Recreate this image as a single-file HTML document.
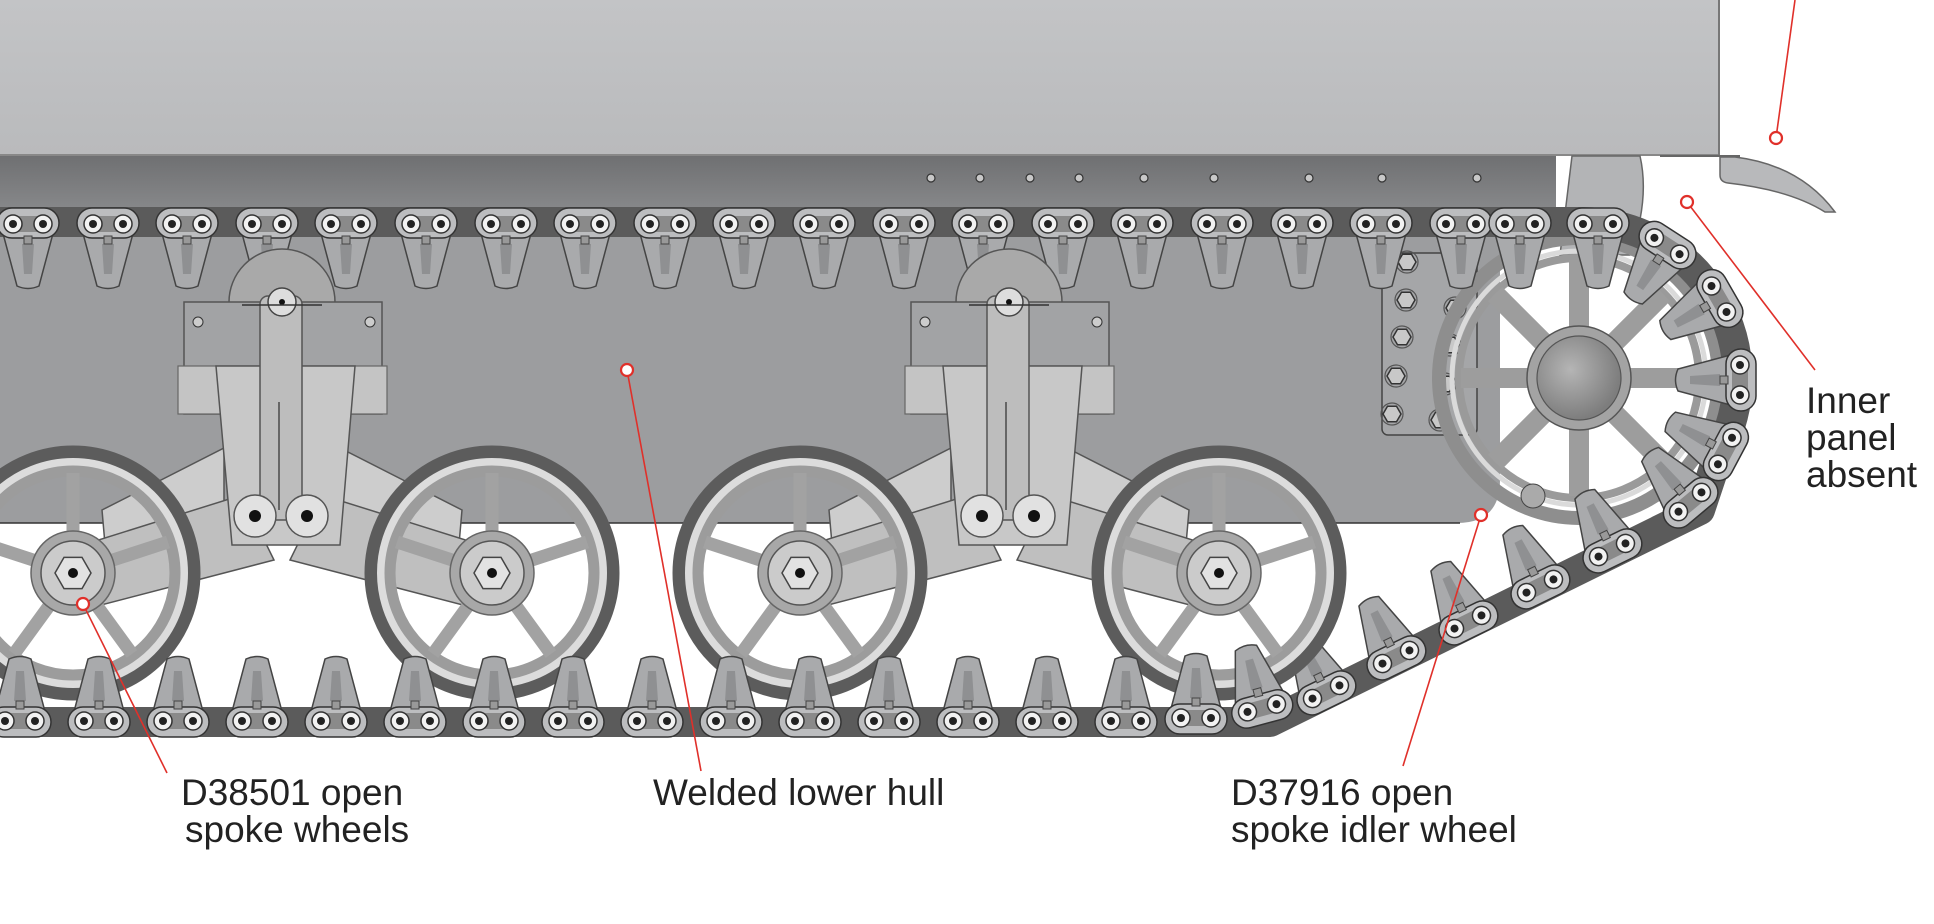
<!DOCTYPE html>
<html><head><meta charset="utf-8"><style>
html,body{margin:0;padding:0;background:#fff;}
svg{display:block}
text{font-family:"Liberation Sans",Arial,sans-serif;font-size:37px;fill:#222;}
</style></head><body>
<svg width="1934" height="924" viewBox="0 0 1934 924" xmlns="http://www.w3.org/2000/svg">
<defs>
<linearGradient id="gup" x1="0" y1="0" x2="0" y2="1"><stop offset="0" stop-color="#c3c4c6"/><stop offset="1" stop-color="#b9babc"/></linearGradient>
<linearGradient id="gband" x1="0" y1="0" x2="0" y2="1"><stop offset="0" stop-color="#6f7072"/><stop offset="1" stop-color="#8a8b8d"/></linearGradient>
<radialGradient id="ghub" cx="0.4" cy="0.4" r="0.6"><stop offset="0" stop-color="#b5b5b5"/><stop offset="1" stop-color="#7d7d7d"/></radialGradient>
<g id="link">
  <path d="M-27 2 L27 2 L11 62 Q0 67 -11 62 Z" fill="#a9aaac" stroke="#444" stroke-width="1.5"/>
  <path d="M-6 20 L6 20 L4 50 L-4 50 Z" fill="#8f9092"/>
  <rect x="-31" y="-16" width="62" height="30" rx="15" fill="#bcbdbf" stroke="#333" stroke-width="1.5"/>
  <rect x="-10" y="-8" width="20" height="16" fill="#8a8a8a"/>
  <circle cx="-15" cy="0" r="9" fill="#f2f2f2" stroke="#333" stroke-width="1.5"/>
  <circle cx="15" cy="0" r="9" fill="#f2f2f2" stroke="#333" stroke-width="1.5"/>
  <circle cx="-15" cy="0" r="4" fill="#222"/>
  <circle cx="15" cy="0" r="4" fill="#222"/>
  <rect x="-4" y="12" width="8" height="8" fill="#999" stroke="#444" stroke-width="1"/>
</g>
<g id="wheel">
  <circle r="121" fill="none" stroke="#5c5c5c" stroke-width="13"/>
  <circle r="111" fill="none" stroke="#dcdcdc" stroke-width="8"/>
  <circle r="102" fill="none" stroke="#9c9c9c" stroke-width="11"/>
  <g stroke="#a2a2a2" stroke-width="13">
    <line x1="0" y1="0" x2="0" y2="-100"/>
    <line x1="0" y1="0" x2="95" y2="-31"/>
    <line x1="0" y1="0" x2="59" y2="81"/>
    <line x1="0" y1="0" x2="-59" y2="81"/>
    <line x1="0" y1="0" x2="-95" y2="-31"/>
  </g>
  <circle r="42" fill="#a8a8a8" stroke="#666" stroke-width="1.5"/>
  <circle r="32" fill="#cbcbcb" stroke="#555" stroke-width="1.5"/>
  <polygon points="18,0 9,15.6 -9,15.6 -18,0 -9,-15.6 9,-15.6" fill="#e2e2e2" stroke="#444" stroke-width="1.5"/>
  <circle r="5" fill="#111"/>
</g>
<g id="bolt"><polygon points="9,0 4.5,7.8 -4.5,7.8 -9,0 -4.5,-7.8 4.5,-7.8" fill="#c8c8c8" stroke="#333" stroke-width="1.5"/><circle r="11" fill="none" stroke="#555" stroke-width="1.2"/></g>
<g id="bogie">
  <circle cx="0" cy="302" r="53" fill="#a9a9a9" stroke="#555" stroke-width="1.5"/>
  <rect x="-98" y="302" width="198" height="112" fill="#a2a3a5" stroke="#555" stroke-width="1.5"/>
  <circle cx="-84" cy="322" r="5" fill="#ccc" stroke="#333"/><circle cx="-84" cy="371" r="5" fill="#ccc" stroke="#333"/>
  <circle cx="88" cy="322" r="5" fill="#ccc" stroke="#333"/><circle cx="88" cy="371" r="5" fill="#ccc" stroke="#333"/>
  <rect x="-104" y="366" width="209" height="48" fill="#c4c4c4" stroke="#666" stroke-width="1.2"/>
  <polygon points="-180,510 -58,448 -58,535 -176,556" fill="#cdcdcd" stroke="#555" stroke-width="1.5"/>
  <polygon points="180,510 58,448 58,535 176,556" fill="#cdcdcd" stroke="#555" stroke-width="1.5"/>
  <polygon points="-209,548 -40,495 -8,560 -200,610" fill="#bfbfbf" stroke="#555" stroke-width="1.5"/>
  <polygon points="209,548 40,495 8,560 200,610" fill="#bfbfbf" stroke="#555" stroke-width="1.5"/>
  <polygon points="-66,366 73,366 58,545 -50,545" fill="#c8c8c8" stroke="#555" stroke-width="1.5"/>
  <rect x="-22" y="296" width="42" height="224" rx="8" fill="#bdbdbd" stroke="#555" stroke-width="1.5"/>
  <line x1="-3" y1="402" x2="-3" y2="510" stroke="#666" stroke-width="2"/>
  <circle cx="0" cy="302" r="14" fill="#ddd" stroke="#444" stroke-width="1.5"/>
  <circle cx="0" cy="302" r="3" fill="#111"/>
  <line x1="-40" y1="305" x2="40" y2="305" stroke="#333" stroke-width="1.5"/>
  <circle cx="-27" cy="516" r="21" fill="#e1e1e1" stroke="#555" stroke-width="1.5"/>
  <circle cx="25" cy="516" r="21" fill="#e1e1e1" stroke="#555" stroke-width="1.5"/>
  <circle cx="-27" cy="516" r="6" fill="#111"/><circle cx="25" cy="516" r="6" fill="#111"/>
</g>
</defs>

<rect x="0" y="0" width="1720" height="156" fill="url(#gup)"/>
<line x1="0" y1="155" x2="1720" y2="155" stroke="#888" stroke-width="2"/>
<line x1="1719" y1="0" x2="1719" y2="155" stroke="#777" stroke-width="2"/>
<path d="M1720 157 L1735 157 Q1800 165 1835 212 L1825 212 Q1790 190 1728 183 Q1720 182 1720 175 Z" fill="#b8b9bb" stroke="#666" stroke-width="1.5"/>
<line x1="1660" y1="156" x2="1740" y2="156" stroke="#666" stroke-width="2"/>
<rect x="0" y="156" width="1556" height="60" fill="url(#gband)"/>
<g fill="#c8c8c8" stroke="#333" stroke-width="1.2">
<circle cx="931" cy="178" r="4"/><circle cx="980" cy="178" r="4"/><circle cx="1030" cy="178" r="4"/><circle cx="1079" cy="178" r="4"/><circle cx="1144" cy="178" r="4"/><circle cx="1214" cy="178" r="4"/><circle cx="1309" cy="178" r="4"/><circle cx="1382" cy="178" r="4"/><circle cx="1477" cy="178" r="4"/>
</g>
<path d="M1572 156 L1640 156 Q1650 200 1630 255 L1560 255 Z" fill="#b3b4b6" stroke="#666" stroke-width="1.5"/>
<path d="M0 214 L1500 214 L1500 480 Q1500 523 1457 523 L0 523 Z" fill="#9c9d9f"/>
<line x1="0" y1="523" x2="1460" y2="523" stroke="#333" stroke-width="1.5"/>

<rect x="1382" y="253" width="95" height="182" rx="6" fill="#a5a6a8" stroke="#444" stroke-width="1.5"/>
<use href="#bolt" x="1407" y="262"/><use href="#bolt" x="1460" y="270"/>
<use href="#bolt" x="1406" y="300"/><use href="#bolt" x="1455" y="308"/>
<use href="#bolt" x="1402" y="337"/><use href="#bolt" x="1450" y="345"/>
<use href="#bolt" x="1396" y="376"/><use href="#bolt" x="1445" y="384"/>
<use href="#bolt" x="1392" y="414"/><use href="#bolt" x="1440" y="420"/>
<g transform="translate(1579,378)">
  <circle r="140" fill="none" stroke="#8e8e8e" stroke-width="14"/>
  <circle r="127" fill="none" stroke="#dadada" stroke-width="5"/>
  <circle r="120" fill="none" stroke="#9a9a9a" stroke-width="8"/>
  <g stroke="#9d9d9d" stroke-width="20">
    <line x1="0" y1="-50" x2="0" y2="-118"/><line x1="35" y1="-35" x2="84" y2="-84"/>
    <line x1="50" y1="0" x2="118" y2="0"/><line x1="35" y1="35" x2="84" y2="84"/>
    <line x1="0" y1="50" x2="0" y2="118"/><line x1="-35" y1="35" x2="-84" y2="84"/>
    <line x1="-50" y1="0" x2="-118" y2="0"/><line x1="-35" y1="-35" x2="-84" y2="-84"/>
  </g>
  <circle r="52" fill="#a3a3a3" stroke="#555" stroke-width="1.5"/>
  <circle r="42" fill="url(#ghub)" stroke="#555" stroke-width="1.2"/>
  <circle cx="-46" cy="118" r="12" fill="#aaa" stroke="#444"/>
</g>

<path d="M0 222 L1584 222 A156 156 0 0 1 1720 450 L1700 510 L1270 722 L0 722" fill="none" stroke="#5b5b5b" stroke-width="30" stroke-linejoin="round"/>

<g>
<use href="#link" x="28" y="224"/><use href="#link" x="108" y="224"/><use href="#link" x="187" y="224"/><use href="#link" x="267" y="224"/><use href="#link" x="346" y="224"/><use href="#link" x="426" y="224"/><use href="#link" x="506" y="224"/><use href="#link" x="585" y="224"/><use href="#link" x="665" y="224"/><use href="#link" x="744" y="224"/><use href="#link" x="824" y="224"/><use href="#link" x="904" y="224"/><use href="#link" x="983" y="224"/><use href="#link" x="1063" y="224"/><use href="#link" x="1142" y="224"/><use href="#link" x="1222" y="224"/><use href="#link" x="1302" y="224"/><use href="#link" x="1381" y="224"/><use href="#link" x="1461" y="224"/><use href="#link" x="1520" y="224"/><use href="#link" x="1598" y="224"/>
</g>
<use href="#link" transform="translate(1667,246) rotate(33)"/>
<use href="#link" transform="translate(1719,299) rotate(60)"/>
<use href="#link" transform="translate(1740,380) rotate(90)"/>
<use href="#link" transform="translate(1725,451) rotate(118)"/>
<use href="#link" transform="translate(1690,502) rotate(140)"/>
<use href="#link" transform="translate(1612,550) rotate(154)"/>
<use href="#link" transform="translate(1540,586) rotate(154)"/>
<use href="#link" transform="translate(1468,622) rotate(154)"/>
<use href="#link" transform="translate(1396,657) rotate(154)"/>
<use href="#link" transform="translate(1326,692) rotate(154)"/>

<use href="#bogie" x="282" y="0"/>
<use href="#bogie" x="1009" y="0"/>
<use href="#wheel" x="73" y="573"/>
<use href="#wheel" x="492" y="573"/>
<use href="#wheel" x="800" y="573"/>
<use href="#wheel" x="1219" y="573"/>

<g>
<use href="#link" transform="translate(20,721) rotate(180)"/><use href="#link" transform="translate(99,721) rotate(180)"/><use href="#link" transform="translate(178,721) rotate(180)"/><use href="#link" transform="translate(257,721) rotate(180)"/><use href="#link" transform="translate(336,721) rotate(180)"/><use href="#link" transform="translate(415,721) rotate(180)"/><use href="#link" transform="translate(494,721) rotate(180)"/><use href="#link" transform="translate(573,721) rotate(180)"/><use href="#link" transform="translate(652,721) rotate(180)"/><use href="#link" transform="translate(731,721) rotate(180)"/><use href="#link" transform="translate(810,721) rotate(180)"/><use href="#link" transform="translate(889,721) rotate(180)"/><use href="#link" transform="translate(968,721) rotate(180)"/><use href="#link" transform="translate(1047,721) rotate(180)"/><use href="#link" transform="translate(1126,721) rotate(180)"/><use href="#link" transform="translate(1196,718) rotate(180)"/><use href="#link" transform="translate(1262,708) rotate(165)"/>
</g>

<g stroke="#e0302a" stroke-width="1.6" fill="none">
  <line x1="83" y1="604" x2="167" y2="773"/>
  <line x1="627" y1="370" x2="701" y2="771"/>
  <line x1="1481" y1="515" x2="1403" y2="766"/>
  <line x1="1687" y1="202" x2="1815" y2="370"/>
  <line x1="1776" y1="138" x2="1795" y2="0"/>
</g>
<g stroke="#e0302a" stroke-width="2.2" fill="#fff">
  <circle cx="83" cy="604" r="6"/><circle cx="627" cy="370" r="6"/><circle cx="1481" cy="515" r="6"/><circle cx="1687" cy="202" r="6"/><circle cx="1776" cy="138" r="6"/>
</g>

<text x="181" y="805">D38501 open</text>
<text x="185" y="842">spoke wheels</text>
<text x="653" y="805">Welded lower hull</text>
<text x="1231" y="805">D37916 open</text>
<text x="1231" y="842">spoke idler wheel</text>
<text x="1806" y="413">Inner</text>
<text x="1806" y="450">panel</text>
<text x="1806" y="487">absent</text>
</svg>
</body></html>
